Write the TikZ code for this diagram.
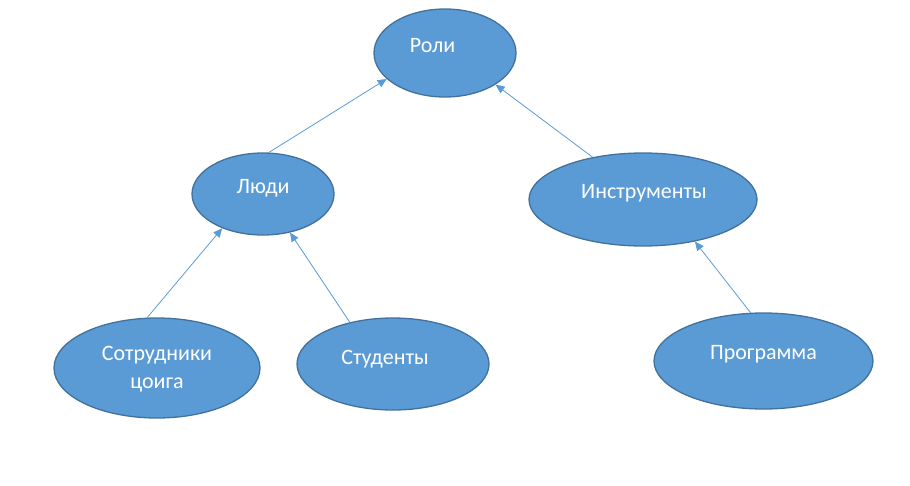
\documentclass[tikz,border=0pt]{standalone}
\usepackage{fontspec}
\setmainfont{Carlito}
\usetikzlibrary{shapes.geometric,arrows.meta}
\definecolor{efill}{HTML}{5B9BD5}
\definecolor{edraw}{HTML}{41719C}
\definecolor{aline}{HTML}{5B9BD5}
\tikzset{
  oval/.style={ellipse, fill=efill, draw=edraw, line width=1.3pt, inner sep=0pt},
  lbl/.style={text=white, font=\fontsize{22}{28.5}\selectfont, align=center, inner sep=0pt},
  conn/.style={draw=aline, line width=0.8pt, -{Triangle[length=9pt,width=8pt]}}
}
\begin{document}
\begin{tikzpicture}[x=1pt,y=-1pt]
\useasboundingbox (0,0) rectangle (910,485);
\node[oval, minimum width=142pt, minimum height=88pt,
  label={[lbl,xshift=-12.5pt,yshift=7pt]center:Роли}] (roli) at (445,53) {};
\node[oval, minimum width=142pt, minimum height=82pt,
  label={[lbl,xshift=0pt,yshift=6pt]center:Люди}] (ljudi) at (263,194) {};
\node[oval, minimum width=228pt, minimum height=93pt,
  label={[lbl,xshift=1pt,yshift=6.5pt]center:Инструменты}] (instr) at (643,199.5) {};
\node[oval, minimum width=206pt, minimum height=100pt,
  label={[lbl,xshift=0pt,yshift=-1pt]center:Сотрудники\\цоига}] (sotr) at (157,368) {};
\node[oval, minimum width=192pt, minimum height=92pt,
  label={[lbl,xshift=-8pt,yshift=5pt]center:Студенты}] (stud) at (393,364) {};
\node[oval, minimum width=219pt, minimum height=96pt,
  label={[lbl,xshift=0pt,yshift=7pt]center:Программа}] (prog) at (763.5,361) {};
\draw[conn] (ljudi.82) -- (roli.204);
\draw[conn] (instr.140) -- (roli.328);
\draw[conn] (sotr.101) -- (ljudi.220);
\draw[conn] (stud.136) -- (ljudi.305);
\draw[conn] (prog.105) -- (instr.321);
\end{tikzpicture}
\end{document}
